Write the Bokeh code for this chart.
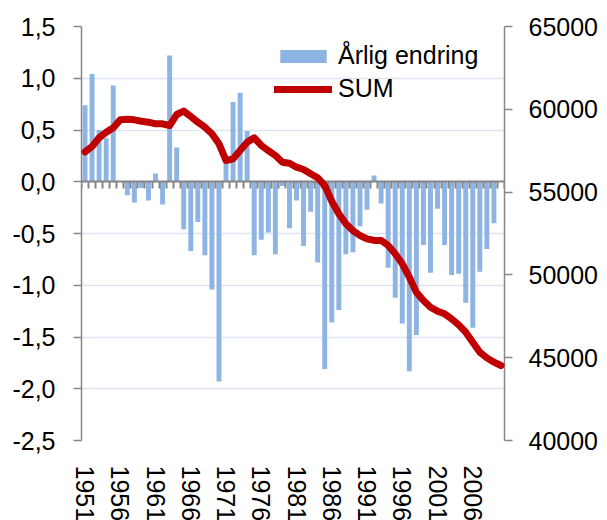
import math
import numpy as np
from bokeh.plotting import figure
from bokeh.models import (Range1d, LinearAxis, FixedTicker, Legend, LegendItem,
                          Grid, ColumnDataSource)
from bokeh.embed import file_html
from bokeh.resources import INLINE

# ---------------- data ----------------
years = list(range(1951, 2011))

annual_change = [
    0.74, 1.04, 0.50, 0.42, 0.93, 0.00, -0.13, -0.20, -0.06, -0.18,
    0.08, -0.22, 1.22, 0.33, -0.46, -0.67, -0.39, -0.71, -1.04, -1.93,
    0.22, 0.77, 0.86, 0.49, -0.71, -0.56, -0.49, -0.70, -0.04, -0.45,
    -0.18, -0.62, -0.29, -0.78, -1.81, -1.36, -1.24, -0.70, -0.68, -0.43,
    -0.27, 0.06, -0.21, -0.83, -1.12, -1.37, -1.83, -1.48, -0.61, -0.88,
    -0.26, -0.61, -0.90, -0.89, -1.17, -1.41, -0.87, -0.65, -0.40, None,
]

sum_values = [
    57430, 57750, 58280, 58620, 58880, 59365, 59400, 59365, 59280, 59220,
    59120, 59120, 59020, 59685, 59890, 59565, 59220, 58920, 58520, 57915,
    56910, 57010, 57510, 58015, 58280, 57815, 57510, 57210, 56805, 56745,
    56505, 56365, 56105, 55865, 55400, 54450, 53690, 53085, 52680, 52380,
    52180, 52080, 52080, 51775, 51275, 50670, 49860, 48955, 48450, 48050,
    47810, 47650, 47345, 46985, 46540, 45935, 45330, 44990, 44730, 44530,
]

left_ticks = [-2.5, -2.0, -1.5, -1.0, -0.5, 0.0, 0.5, 1.0, 1.5]
left_tick_labels = ["-2,5", "-2,0", "-1,5", "-1,0", "-0,5", "0,0", "0,5", "1,0", "1,5"]
right_ticks = [40000, 45000, 50000, 55000, 60000, 65000]
year_label_ticks = [1951, 1956, 1961, 1966, 1971, 1976, 1981, 1986, 1991, 1996, 2001, 2006]

series_names = ["Årlig endring", "SUM"]

# ---------------- style ----------------
FONT = "Liberation Sans"
FS = "25px"
AXIS_GRAY = "#868686"
BAR_COLOR = "#8EB4E3"
LINE_COLOR = "#C00000"
GRID_COLOR = "#DCE5F1"

source = ColumnDataSource(dict(
    year=years,
    change=np.array(annual_change, dtype=float),
    total=sum_values,
))

p = figure(
    frame_width=423, frame_height=414,
    output_backend="svg", toolbar_location=None,
    x_range=Range1d(years[0] - 0.5, years[-1] + 0.5),
    y_range=Range1d(left_ticks[0], left_ticks[-1]),
    x_axis_location=None, y_axis_location="left",
    min_border_left=81, min_border_top=26, min_border_bottom=0, min_border_right=0,
)
p.outline_line_color = None
for g in p.grid:
    g.visible = False

p.extra_y_ranges = {"sum": Range1d(right_ticks[0], right_ticks[-1])}

# grid
p.add_layout(Grid(dimension=1, ticker=FixedTicker(ticks=left_ticks),
                  grid_line_color=GRID_COLOR, grid_line_width=1.5))

# bars
bars = p.vbar(x="year", top="change", bottom=0, width=0.7, source=source,
              fill_color=BAR_COLOR, line_color=None)

# left axis
yl = p.yaxis[0]
yl.ticker = FixedTicker(ticks=left_ticks)
yl.major_label_overrides = dict(zip(left_ticks, left_tick_labels))
yl.axis_line_color = AXIS_GRAY
yl.axis_line_width = 1.5
yl.major_tick_line_color = AXIS_GRAY
yl.major_tick_line_width = 1.5
yl.major_tick_out = 8
yl.major_tick_in = 0
yl.minor_tick_line_color = None
yl.major_label_standoff = 18
yl.major_label_text_font = FONT
yl.major_label_text_font_size = FS
yl.major_label_text_color = "black"

# right axis
yr = LinearAxis(y_range_name="sum", ticker=FixedTicker(ticks=right_ticks))
yr.axis_line_color = AXIS_GRAY
yr.axis_line_width = 1.5
yr.major_tick_line_color = AXIS_GRAY
yr.major_tick_line_width = 1.5
yr.major_tick_out = 8
yr.major_tick_in = 0
yr.minor_tick_line_color = None
yr.major_label_standoff = 16
yr.major_label_text_font = FONT
yr.major_label_text_font_size = FS
yr.major_label_text_color = "black"
p.add_layout(yr, "right")

# category axis drawn at zero, ticks between categories
boundaries = [y - 0.5 for y in years] + [years[-1] + 0.5]
zero_axis = LinearAxis(fixed_location=0, ticker=FixedTicker(ticks=boundaries))
zero_axis.axis_line_color = AXIS_GRAY
zero_axis.axis_line_width = 2
zero_axis.major_tick_line_color = AXIS_GRAY
zero_axis.major_tick_line_width = 2
zero_axis.major_tick_out = 7
zero_axis.major_tick_in = 0
zero_axis.minor_tick_line_color = None
zero_axis.major_label_text_color = None
p.add_layout(zero_axis, "below")

# year labels at the bottom (normal axis panel), reading top-to-bottom
lab_axis = LinearAxis(ticker=FixedTicker(ticks=year_label_ticks))
lab_axis.axis_line_color = None
lab_axis.major_tick_line_color = None
lab_axis.major_tick_out = 0
lab_axis.major_tick_in = 0
lab_axis.minor_tick_line_color = None
lab_axis.major_label_orientation = -math.pi / 2
lab_axis.major_label_standoff = 25
lab_axis.major_label_text_font = FONT
lab_axis.major_label_text_font_size = FS
lab_axis.major_label_text_color = "black"
p.add_layout(lab_axis, "below")

# SUM line
line = p.line(x="year", y="total", source=source, y_range_name="sum",
              line_color=LINE_COLOR, line_width=7, line_join="round", line_cap="round")
line.level = "annotation"

legend = Legend(
    items=[LegendItem(label=series_names[0], renderers=[bars]),
           LegendItem(label=series_names[1], renderers=[line])],
    location=(193, 337),
    orientation="vertical",
    glyph_width=58, glyph_height=16,
    label_standoff=6, label_height=29, spacing=4,
    padding=0, margin=0,
    border_line_color=None, background_fill_alpha=0,
    label_text_font=FONT, label_text_font_size=FS, label_text_color="black",
)
p.add_layout(legend)

open("out.html", "w").write(file_html(p, INLINE))
